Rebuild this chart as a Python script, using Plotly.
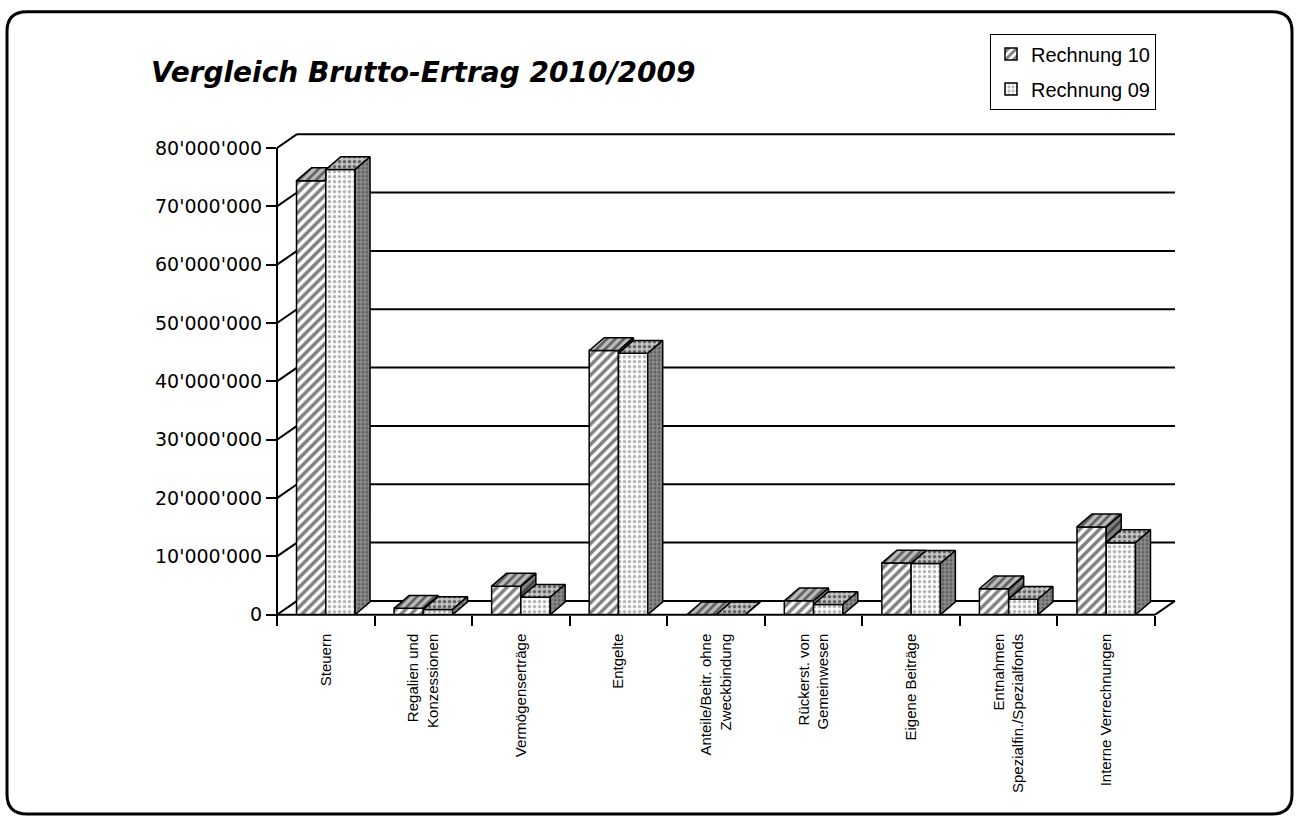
import plotly.graph_objects as go

# ---------------- data ----------------
categories = [
    "Steuern",
    "Regalien und<br>Konzessionen",
    "Vermögenserträge",
    "Entgelte",
    "Anteile/Beitr. ohne<br>Zweckbindung",
    "Rückerst. von<br>Gemeinwesen",
    "Eigene Beiträge",
    "Entnahmen<br>Spezialfin./Spezialfonds",
    "Interne Verrechnungen",
]
rechnung_10 = [74.4e6, 1.1e6, 4.9e6, 45.3e6, 0.0, 2.4e6, 8.85e6, 4.45e6, 15.05e6]
rechnung_09 = [76.3e6, 0.9e6, 3.0e6, 44.8e6, 0.0, 1.75e6, 8.8e6, 2.65e6, 12.35e6]
y_tickvals = [0, 10e6, 20e6, 30e6, 40e6, 50e6, 60e6, 70e6, 80e6]
y_ticktext = ["0", "10'000'000", "20'000'000", "30'000'000", "40'000'000",
              "50'000'000", "60'000'000", "70'000'000", "80'000'000"]
series_names = ["Rechnung 10", "Rechnung 09"]
title_text = "Vergleich Brutto-Ertrag 2010/2009"

# ---------------- layout geometry ----------------
W, H = 1297, 829
X_L, X_R = 277, 1155          # front x-axis extent (px)
Y_0, Y_TOP = 623, 150         # pixel of value 0 and of 80M
FLOOR_DX, FLOOR_DY = 20, 14   # depth of floor / back wall (px)
BAR_DX, BAR_DY = 15, 13       # depth of each bar (px)
n = len(categories)
cat_px = (X_R - X_L) / n
val_px = (Y_0 - Y_TOP) / 80e6
x_hi = n - 0.5 + FLOOR_DX / cat_px
y_hi = 80e6 + FLOOR_DY / val_px

def fx(px):
    return px / W

def fy(py):
    return (H - py) / H

def vy(v):
    return Y_0 - v * val_px

fig = go.Figure()

# front faces (bars)
fig.add_trace(go.Bar(
    x=list(range(n)), y=rechnung_10, name=series_names[0],
    marker=dict(color="white", line=dict(color="black", width=1.5),
                pattern=dict(shape="/", fgcolor="black", bgcolor="white",
                             size=7, solidity=0.5)),
    legendgroup="a",
))
fig.add_trace(go.Bar(
    x=list(range(n)), y=rechnung_09, name=series_names[1],
    marker=dict(color="white", line=dict(color="black", width=1.5),
                pattern=dict(shape=".", fgcolor="#6a6a6a", bgcolor="white",
                             size=5, solidity=0.4)),
    legendgroup="b",
))

# 3D top / side faces derived from the values
bw = 0.3
bdx = BAR_DX / cat_px
bdy = BAR_DY / val_px
slope = bdy / bdx

def add_poly(xs, ys, shape, fg, bg, size, sol):
    fig.add_trace(go.Scatter(
        x=xs, y=ys, mode="lines", fill="toself",
        line=dict(color="black", width=1.5),
        fillcolor=bg,
        fillpattern=dict(shape=shape, fgcolor=fg, bgcolor=bg, size=size, solidity=sol),
        showlegend=False, hoverinfo="skip",
    ))

t10x, t10y, s10x, s10y, t09x, t09y, s09x, s09y = [], [], [], [], [], [], [], []
for i in range(n):
    v10, v09 = rechnung_10[i], rechnung_09[i]
    x0 = i - bw
    x1 = i
    x2 = i + bw
    if v10 >= v09:
        t10x += [x0, x1, x1 + bdx, x0 + bdx, x0, None]
        t10y += [v10, v10, v10 + bdy, v10 + bdy, v10, None]
        s10x += [x1, x1, x1 + bdx, x1 + bdx, x1, None]
        s10y += [v09, v10, v10 + bdy, v09 + bdy, v09, None]
    else:
        if v09 < v10 + bdy:
            xe = x1 + (v10 + bdy - v09) / slope
            t10x += [x0, x1, x1, xe, x0 + bdx, x0, None]
            t10y += [v10, v10, v09, v10 + bdy, v10 + bdy, v10, None]
        else:
            t10x += [x0, x1, x1, x0 + bdx, x0, None]
            t10y += [v10, v10, v10 + bdy, v10 + bdy, v10, None]
    t09x += [x1, x2, x2 + bdx, x1 + bdx, x1, None]
    t09y += [v09, v09, v09 + bdy, v09 + bdy, v09, None]
    s09x += [x2, x2, x2 + bdx, x2 + bdx, x2, None]
    s09y += [0, v09, v09 + bdy, bdy, 0, None]

add_poly(s10x, s10y, "/", "black", "#808080", 6, 0.45)
add_poly(t10x, t10y, "/", "black", "#bdbdbd", 6, 0.45)
add_poly(t09x, t09y, ".", "black", "#c4c4c4", 5, 0.4)
add_poly(s09x, s09y, ".", "#333333", "#8c8c8c", 4, 0.45)

# ---------------- decorations: back wall, floor, axis lines ----------------
shapes = []
line_k = dict(color="black", width=2)
for v in y_tickvals:
    yf = vy(v)
    yb = yf - FLOOR_DY
    shapes.append(dict(type="line", xref="paper", yref="paper",
                       x0=fx(X_L + FLOOR_DX), x1=fx(X_R + FLOOR_DX),
                       y0=fy(yb), y1=fy(yb), line=line_k, layer="below"))
    shapes.append(dict(type="line", xref="paper", yref="paper",
                       x0=fx(X_L), x1=fx(X_L + FLOOR_DX),
                       y0=fy(yf), y1=fy(yb), line=line_k, layer="below"))
shapes.append(dict(type="line", xref="paper", yref="paper",
                   x0=fx(X_R), x1=fx(X_R + FLOOR_DX),
                   y0=fy(Y_0), y1=fy(Y_0 - FLOOR_DY), line=line_k, layer="below"))
shapes.append(dict(type="line", xref="paper", yref="paper",
                   x0=fx(X_L), x1=fx(X_R), y0=fy(Y_0), y1=fy(Y_0), line=line_k))
shapes.append(dict(type="line", xref="paper", yref="paper",
                   x0=fx(X_L), x1=fx(X_L), y0=fy(Y_0 + 10), y1=fy(Y_TOP), line=line_k))
# rounded outer frame
fl, ft, fr, fb, rr = 7, 12, 1292, 825, 20
path = (f"M {fx(fl+rr)},{fy(ft)} L {fx(fr-rr)},{fy(ft)} Q {fx(fr)},{fy(ft)} {fx(fr)},{fy(ft+rr)} "
        f"L {fx(fr)},{fy(fb-rr)} Q {fx(fr)},{fy(fb)} {fx(fr-rr)},{fy(fb)} "
        f"L {fx(fl+rr)},{fy(fb)} Q {fx(fl)},{fy(fb)} {fx(fl)},{fy(fb-rr)} "
        f"L {fx(fl)},{fy(ft+rr)} Q {fx(fl)},{fy(ft)} {fx(fl+rr)},{fy(ft)} Z")
shapes.append(dict(type="path", xref="paper", yref="paper", path=path,
                   line=dict(color="black", width=3)))

fig.update_layout(
    width=W, height=H, autosize=False,
    margin=dict(l=0, r=0, t=0, b=0),
    paper_bgcolor="white", plot_bgcolor="rgba(0,0,0,0)",
    barmode="group", bargap=0.4, bargroupgap=0,
    showlegend=True,
    legend=dict(x=fx(990), y=fy(34), xanchor="left", yanchor="top",
                bordercolor="black", borderwidth=1, bgcolor="white",
                font=dict(family="Liberation Sans, Arial", size=20, color="black"),
                traceorder="grouped", tracegroupgap=6,
                itemclick=False),
    font=dict(family="Liberation Sans, Arial", color="black"),
    shapes=shapes,
    annotations=[dict(text=f"<b><i>{title_text}</i></b>", xref="paper", yref="paper",
                      x=fx(149), y=fy(73), xanchor="left", yanchor="middle",
                      showarrow=False,
                      font=dict(family="DejaVu Sans", size=28, color="black"))],
    xaxis=dict(domain=[fx(X_L), fx(X_R + FLOOR_DX)], range=[-0.5, x_hi],
               tickmode="array", tickvals=list(range(n)), ticktext=categories,
               tickangle=-90, ticks="outside", ticklen=12, tickcolor="rgba(0,0,0,0)",
               tickfont=dict(family="Liberation Sans, Arial", size=15, color="black"),
               showgrid=False, zeroline=False, showline=False, fixedrange=True,
               minor=dict(tickmode="array", tickvals=[i - 0.5 for i in range(n + 1)],
                          ticks="outside", ticklen=10, tickwidth=2, tickcolor="black",
                          showgrid=False)),
    yaxis=dict(domain=[fy(Y_0), fy(Y_TOP - FLOOR_DY)], range=[0, y_hi],
               tickmode="array", tickvals=y_tickvals, ticktext=y_ticktext,
               ticks="outside", ticklen=10, tickwidth=2, tickcolor="black",
               tickfont=dict(family="DejaVu Sans", size=19, color="black"),
               showgrid=False, zeroline=False, showline=False, fixedrange=True),
)

fig.write_html("out.html", config={"displayModeBar": False, "responsive": False},
               post_script="document.body.style.margin='0';document.body.style.overflow='hidden';")
